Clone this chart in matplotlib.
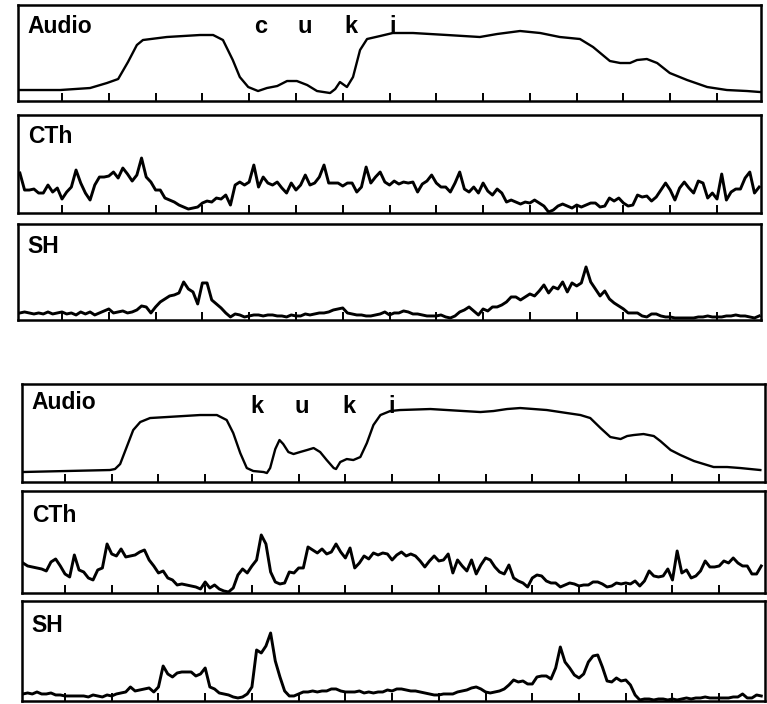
import matplotlib.pyplot as plt
import numpy as np

plt.rcParams['font.family'] = ['Liberation Sans', 'DejaVu Sans']

# time axis in ms, ticks every 100 ms
t_grid = np.arange(10, 1600, 10)   # sampling of the CTh / SH channels

# ---- first utterance "cuki" ----
audio1_t = [6, 96, 160, 196, 220, 241, 260, 273, 324, 395, 423, 444, 465, 480, 498,
            519, 538, 560, 581, 602, 624, 645, 673, 684, 694, 709, 722, 737, 752, 780,
            807, 850, 923, 993, 1030, 1079, 1122, 1164, 1207, 1235, 1271, 1293, 1314,
            1329, 1350, 1372, 1399, 1436, 1479, 1521, 1564, 1592]
audio1_v = [11, 11, 13, 18, 22, 39, 56, 61, 64, 66, 66, 61, 41, 24, 14,
            10, 13, 15, 20, 20, 16, 10, 8, 12, 19, 14, 24, 51, 62, 65,
            68, 68, 66, 64, 67, 70, 68, 64, 62, 54, 40, 38, 38,
            41, 42, 38, 28, 21, 14, 11, 10, 9]

cth1 = [40, 23, 23, 24, 20, 20, 28, 21, 25, 14,
        21, 26, 43, 30, 20, 13, 28, 36, 36, 37,
        41, 35, 45, 39, 32, 38, 55, 36, 31, 23,
        23, 15, 13, 11, 8, 6, 4, 5, 6, 10,
        12, 11, 15, 14, 18, 8, 28, 31, 28, 31,
        48, 26, 36, 30, 28, 31, 25, 20, 30, 23,
        28, 38, 28, 30, 36, 48, 30, 30, 30, 27,
        30, 30, 21, 26, 46, 30, 36, 41, 31, 28,
        32, 29, 31, 30, 31, 21, 29, 32, 38, 30,
        26, 26, 21, 30, 41, 24, 21, 26, 20, 30,
        22, 18, 24, 20, 11, 13, 11, 9, 11, 10,
        13, 10, 7, 1, 3, 7, 9, 7, 5, 8,
        6, 8, 10, 10, 6, 7, 15, 12, 15, 10,
        7, 8, 18, 16, 17, 12, 16, 23, 30, 23,
        13, 25, 31, 25, 20, 32, 30, 15, 20, 14,
        39, 13, 21, 24, 24, 35, 41, 20, 26]

sh1 = [7, 8, 7, 6, 7, 6, 8, 6, 7, 8,
       6, 7, 5, 8, 6, 8, 5, 7, 9, 11,
       7, 8, 9, 7, 8, 10, 14, 13, 7, 13,
       18, 21, 24, 25, 27, 38, 31, 28, 16, 37,
       37, 20, 16, 12, 7, 3, 6, 5, 3, 4,
       5, 5, 4, 5, 5, 4, 4, 3, 5, 4,
       4, 6, 5, 6, 7, 7, 8, 10, 11, 12,
       7, 6, 5, 5, 4, 4, 5, 6, 8, 5,
       7, 7, 9, 8, 6, 6, 5, 4, 4, 4,
       5, 3, 2, 4, 8, 10, 13, 9, 5, 11,
       9, 13, 13, 15, 18, 23, 23, 20, 23, 26,
       24, 29, 35, 27, 33, 31, 38, 28, 37, 34,
       37, 53, 38, 31, 24, 29, 21, 17, 14, 11,
       7, 7, 7, 4, 3, 6, 6, 4, 3, 3,
       2, 2, 2, 2, 2, 3, 3, 4, 3, 3,
       3, 4, 4, 5, 4, 4, 3, 2, 4]

# ---- second utterance "kuki" ----
audio2_t = [7, 196, 207, 218, 232, 246, 261, 282, 318, 389, 425, 446, 460, 475, 489,
            503, 525, 532, 539, 550, 559, 567, 578, 589, 603, 618, 632, 646, 660, 675,
            680, 689, 703, 717, 732, 746, 760, 775, 796, 817, 882, 953, 989, 1017, 1046,
            1074, 1103, 1131, 1174, 1203, 1224, 1246, 1267, 1289, 1303, 1317, 1338, 1360,
            1374, 1396, 1417, 1446, 1474, 1488, 1517, 1545, 1588]
audio2_v = [10, 12, 13, 18, 35, 52, 60, 64, 65, 67, 67, 62, 49, 29, 14,
            11, 10, 9, 14, 33, 42, 38, 30, 28, 30, 32, 34, 30, 22, 14,
            13, 20, 23, 22, 25, 39, 57, 67, 71, 72, 73, 71, 70, 71, 73,
            74, 73, 72, 69, 67, 64, 54, 45, 43, 46, 47, 48, 46,
            41, 32, 27, 21, 17, 15, 15, 14, 12]

cth2 = [30, 27, 26, 25, 24, 22, 31, 34, 27, 19,
        16, 38, 23, 21, 15, 13, 23, 25, 49, 39,
        37, 44, 36, 37, 38, 41, 43, 33, 27, 20,
        22, 15, 13, 8, 9, 8, 7, 6, 4, 11,
        5, 8, 4, 2, 1, 5, 18, 24, 20, 27,
        33, 58, 49, 21, 11, 9, 10, 21, 20, 25,
        25, 46, 43, 40, 44, 39, 41, 49, 41, 35,
        45, 25, 30, 37, 34, 40, 38, 40, 39, 33,
        38, 41, 37, 39, 37, 32, 26, 32, 37, 32,
        33, 39, 20, 33, 27, 22, 33, 19, 28, 35,
        33, 26, 21, 19, 28, 15, 12, 10, 6, 15,
        18, 17, 12, 10, 10, 6, 8, 10, 9, 7,
        8, 8, 11, 11, 9, 6, 7, 10, 9, 10,
        9, 12, 7, 12, 22, 17, 16, 17, 24, 13,
        42, 20, 23, 15, 17, 22, 32, 26, 26, 27,
        32, 30, 35, 30, 27, 27, 19, 19, 27]

sh2 = [7, 8, 7, 9, 7, 7, 8, 6, 6, 5,
       5, 5, 5, 5, 4, 6, 5, 4, 6, 5,
       7, 8, 9, 14, 10, 11, 12, 13, 9, 14,
       35, 27, 24, 28, 29, 29, 29, 25, 27, 33,
       14, 12, 8, 7, 6, 4, 3, 4, 7, 14,
       51, 48, 55, 68, 40, 24, 10, 5, 5, 7,
       9, 9, 10, 9, 10, 10, 12, 12, 10, 9,
       9, 9, 10, 8, 9, 8, 9, 9, 11, 10,
       12, 12, 11, 10, 10, 9, 8, 7, 6, 6,
       7, 7, 7, 9, 10, 11, 13, 14, 12, 9,
       8, 9, 10, 12, 16, 21, 19, 20, 17, 17,
       24, 25, 25, 22, 33, 54, 39, 33, 26, 23,
       27, 39, 45, 46, 34, 20, 19, 23, 20, 21,
       16, 6, 1, 2, 2, 1, 2, 2, 1, 2,
       1, 2, 3, 2, 3, 3, 4, 3, 3, 3,
       3, 3, 4, 4, 7, 3, 3, 6, 5]

phon1 = ['c', 'u', 'k', 'i']
phon1_t = [525, 619, 718, 807]
phon2 = ['k', 'u', 'k', 'i']
phon2_t = [511, 607, 708, 800]

fig = plt.figure(figsize=(7.67, 7.04), dpi=100)


def panel(rect, xlim, ytop, label, label_y):
    ax = fig.add_axes(rect)
    ax.set_xlim(*xlim)
    ax.set_ylim(0, ytop)
    ax.set_xticks(range(100, 1600, 100))
    ax.set_yticks([])
    ax.tick_params(axis='x', direction='in', length=5.5, width=1.4,
                   labelbottom=False, color='black')
    for s in ax.spines.values():
        s.set_linewidth(1.8)
    ax.text(0.013, label_y, label, transform=ax.transAxes, fontsize=16.5,
            fontweight='bold', va='baseline', ha='left')
    return ax


lw = dict(color='black', lw=2.1, solid_joinstyle='round')

# top group
ax1 = panel([0.0235, 0.8565, 0.9687, 0.1364], (6, 1594), 96, 'Audio', 0.708)
ax1.plot(audio1_t, audio1_v, color='black', lw=1.7, solid_joinstyle='round')
for s, t in zip(phon1, phon1_t):
    ax1.text(t, 0.708, s, transform=ax1.get_xaxis_transform(), fontsize=17,
             fontweight='bold', ha='center', va='baseline')

ax2 = panel([0.0235, 0.6974, 0.9687, 0.1392], (6, 1594), 98, 'CTh', 0.714)
ax2.plot(t_grid, cth1, **lw)

ax3 = panel([0.0235, 0.5455, 0.9687, 0.1364], (6, 1594), 96, 'SH', 0.698)
ax3.plot(t_grid, sh1, **lw)

# bottom group
ax4 = panel([0.0287, 0.3153, 0.9687, 0.1392], (8, 1598), 98, 'Audio', 0.75)
ax4.plot(audio2_t, audio2_v, color='black', lw=1.7, solid_joinstyle='round')
for s, t in zip(phon2, phon2_t):
    ax4.text(t, 0.70, s, transform=ax4.get_xaxis_transform(), fontsize=17,
             fontweight='bold', ha='center', va='baseline')

ax5 = panel([0.0287, 0.1577, 0.9687, 0.1449], (8, 1598), 102, 'CTh', 0.70)
ax5.plot(t_grid, cth2, **lw)

ax6 = panel([0.0287, 0.0043, 0.9687, 0.1420], (8, 1598), 100, 'SH', 0.69)
ax6.plot(t_grid, sh2, **lw)

fig.savefig('out.png', dpi=100)
